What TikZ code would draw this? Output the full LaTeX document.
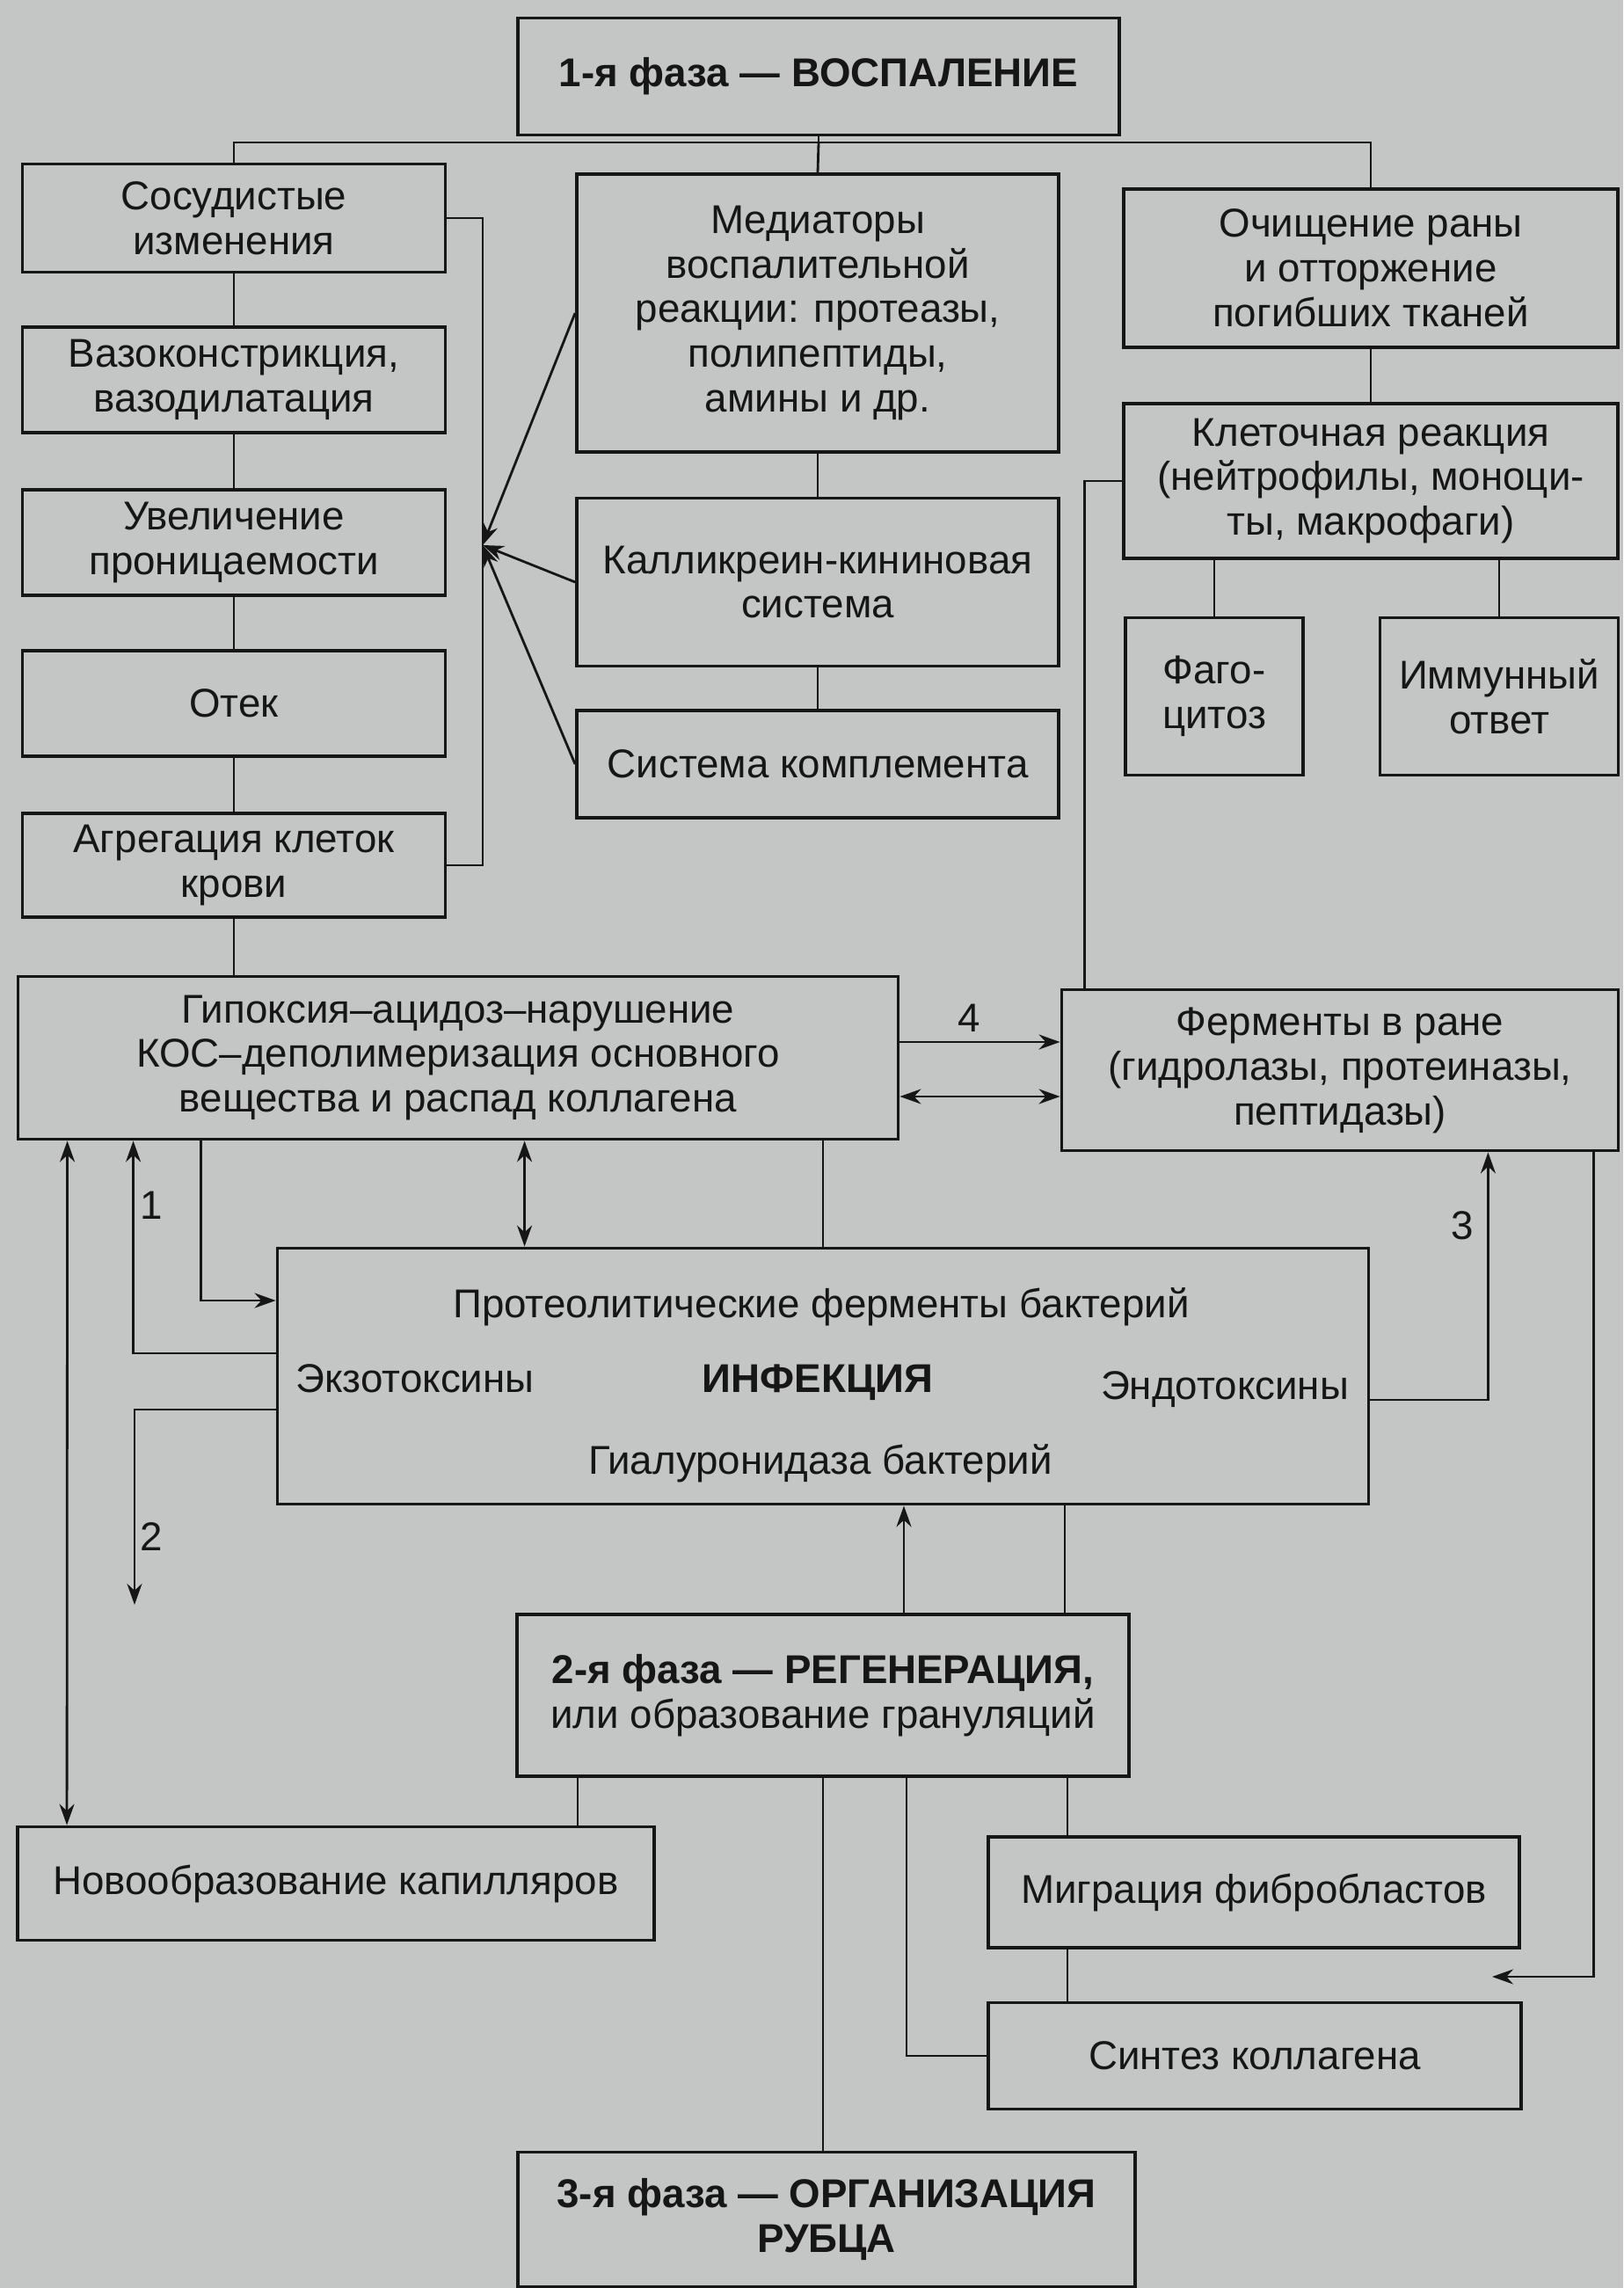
\documentclass[tikz,border=0pt]{standalone}
\usepackage{fontspec}
\setmainfont{Liberation Sans}
\usetikzlibrary{arrows.meta}
\definecolor{page-grey}{HTML}{C4C6C5}
\definecolor{ink}{HTML}{161616}

\begin{document}
\begin{tikzpicture}[
    every node/.style={font=\fontsize{13}{14.5}\selectfont, text=ink},
    box/.style={draw=ink, line width=1.1pt, fill=page-grey, align=center, inner sep=2pt},
    link/.style={draw=ink, line width=0.8pt},
    arr/.style={link, -{Stealth[length=2.4mm, width=1.7mm]}},
    arr2/.style={link, {Stealth[length=2.4mm, width=1.7mm]}-{Stealth[length=2.4mm, width=1.7mm]}}
  ]
    % Page: 18.46cm x 26.02cm, y grows downwards (negative)
    %   left column x=2.66, middle x=9.30, right x=15.59
    %   bus under phase 1 at y=-1.62, bracket of arrows at x=5.49
    \fill[page-grey] (0,0) rectangle (18.46,-26.02);
    \useasboundingbox (0,0) rectangle (18.46,-26.02);

    % phase 1 and its three columns
    \node[box, minimum width=6.84cm, minimum height=1.33cm] (faza1) at (9.31,-0.87)
          {\bfseries 1-я фаза — ВОСПАЛЕНИЕ};
    \node[box, minimum width=4.81cm, minimum height=1.23cm] (sosud) at (2.66,-2.48)
          {Сосудистые\\изменения};
    \node[box, minimum width=4.81cm, minimum height=1.2cm] (vazo) at (2.66,-4.32)
          {Вазоконстрикция,\\вазодилатация};
    \node[box, minimum width=4.81cm, minimum height=1.2cm] (pronic) at (2.66,-6.17)
          {Увеличение\\проницаемости};
    \node[box, minimum width=4.81cm, minimum height=1.2cm] (otek) at (2.66,-8.0) {Отек};
    \node[box, minimum width=4.81cm, minimum height=1.18cm] (agreg) at (2.66,-9.84)
          {Агрегация клеток\\крови};
    \node[box, minimum width=5.48cm, minimum height=3.16cm] (mediat) at (9.30,-3.56)
          {Медиаторы\\воспалительной\\реакции: протеазы,\\полипептиды,\\амины и др.};
    \node[box, minimum width=5.48cm, minimum height=1.91cm] (kallik) at (9.30,-6.62)
          {Калликреин-кининовая\\система};
    \node[box, minimum width=5.48cm, minimum height=1.22cm] (kompl) at (9.30,-8.69)
          {Система комплемента};
    \node[box, minimum width=5.62cm, minimum height=1.8cm] (ochish) at (15.59,-3.05)
          {Очищение раны\\и отторжение\\погибших тканей};
    \node[box, minimum width=5.62cm, minimum height=1.76cm] (kletoch) at (15.59,-5.47)
          {Клеточная реакция\\(нейтрофилы, моноци-\\ты, макрофаги)};
    \node[box, minimum width=2.02cm, minimum height=1.79cm] (fago) at (13.81,-7.92)
          {Фаго-\\цитоз};
    \node[box, minimum width=2.71cm, minimum height=1.79cm] (immun) at (17.05,-7.92)
          {Иммунный\\ответ};

    % middle band
    \node[box, minimum width=10.01cm, minimum height=1.85cm] (gipox) at (5.21,-12.03)
          {Гипоксия–ацидоз–нарушение\\КОС–деполимеризация основного\\вещества и распад коллагена};
    \node[box, minimum width=6.33cm, minimum height=1.83cm] (ferment) at (15.24,-12.17)
          {Ферменты в ране\\(гидролазы, протеиназы,\\пептидазы)};
    \node[box, minimum width=12.41cm, minimum height=2.91cm] (infek) at (9.36,-15.65) {};
    \node (infP) at (9.34,-14.86) {Протеолитические ферменты бактерий};
    \node (infE) at (4.72,-15.68) {Экзотоксины};
    \node (infN) at (9.30,-15.72) {\bfseries ИНФЕКЦИЯ};
    \node (infD) at (13.93,-15.80) {Эндотоксины};
    \node (infH) at (9.33,-16.64) {Гиалуронидаза бактерий};

    % phases 2 and 3
    \node[box, minimum width=6.96cm, minimum height=1.84cm] (faza2) at (9.36,-19.28)
          {\bfseries 2-я фаза — РЕГЕНЕРАЦИЯ,\\или образование грануляций};
    \node[box, minimum width=7.24cm, minimum height=1.29cm] (novoobr) at (3.82,-21.42)
          {Новообразование капилляров};
    \node[box, minimum width=6.04cm, minimum height=1.26cm] (migr) at (14.26,-21.52)
          {Миграция фибробластов};
    \node[box, minimum width=6.06cm, minimum height=1.21cm] (sintez) at (14.27,-23.38)
          {Синтез коллагена};
    \node[box, minimum width=7.02cm, minimum height=1.53cm] (faza3) at (9.40,-25.24)
          {\bfseries 3-я фаза — ОРГАНИЗАЦИЯ\\\bfseries РУБЦА};

    % tree under phase 1
    \coordinate (bus) at (9.31,-1.62);
    \draw[link] (faza1.south) -- (bus);
    \draw[link] (sosud.north) |- (bus) -| (ochish.north);
    \draw[link] (bus) -- (mediat.north);
    \draw[link] (sosud) -- (vazo);
    \draw[link] (vazo) -- (pronic);
    \draw[link] (pronic) -- (otek);
    \draw[link] (otek) -- (agreg);
    \draw[link] (agreg.south) -- (agreg.south |- gipox.north);
    \draw[link] (mediat) -- (kallik);
    \draw[link] (kallik) -- (kompl);
    \draw[link] (ochish) -- (kletoch);
    \draw[link] (kletoch.south -| fago.north) -- (fago.north);
    \draw[link] (kletoch.south -| immun.north) -- (immun.north);
    \draw[link] (kletoch.west) -| ([xshift=0.28cm]ferment.north west);

    % bracket of the vascular column and the mediator arrows
    \coordinate (brk) at (5.49,-6.2);
    \draw[link] (sosud.east) -| (brk) |- (agreg.east);
    \draw[arr] (mediat.west) -- (brk);
    \draw[arr] (kallik.west) -- (brk);
    \draw[arr] (kompl.west) -- (brk);

    % hypoxia <-> wound enzymes
    \draw[arr] ([yshift=0.18cm]gipox.east) -- ([yshift=0.18cm]gipox.east -| ferment.west);
    \draw[arr2] ([yshift=-0.44cm]gipox.east) -- ([yshift=-0.44cm]gipox.east -| ferment.west);
    \node (lab4) at (11.02,-11.58) {4};

    % hypoxia <-> infection
    \draw[arr2] ([xshift=0.58cm]gipox.south west) -- ([xshift=0.58cm]novoobr.north west);
    \draw[arr] ([yshift=0.26cm]infek.west) -| ([xshift=1.33cm]gipox.south west);
    \node (lab1) at (1.72,-13.71) {1};
    \draw[arr] ([xshift=2.1cm]gipox.south west) |- ([yshift=0.86cm]infek.west);
    \coordinate (out2) at (1.53,-18.25);
    \draw[arr] ([yshift=-0.38cm]infek.west) -| (out2);
    \node (lab2) at (1.72,-17.48) {2};
    \draw[arr2] ([xshift=5.78cm]gipox.south west) -- ([xshift=5.78cm]gipox.south west |- infek.north);
    \draw[link] (gipox.south -| infek.north) -- (infek.north);

    % infection -> wound enzymes, enzymes -> fibroblasts
    \draw[arr] ([yshift=-0.27cm]infek.east) -| ([xshift=-1.5cm]ferment.south east);
    \node (lab3) at (16.63,-13.94) {3};
    \coordinate (gapR) at (16.97,-22.48);
    \draw[arr] ([xshift=-0.3cm]ferment.south east) |- (gapR);

    % phase 2 links
    \draw[arr] ([xshift=0.92cm]faza2.north) -- ([xshift=0.92cm]faza2.north |- infek.south);
    \draw[link] ([xshift=2.75cm]faza2.north) -- ([xshift=2.75cm]faza2.north |- infek.south);
    \draw[link] ([xshift=-2.79cm]faza2.south) -- ([xshift=-2.79cm]faza2.south |- novoobr.north);
    \draw[link] (faza2.south) -- (faza2.south |- faza3.north);
    \draw[link] ([xshift=0.95cm]faza2.south) |- (sintez.west);
    \draw[link] ([xshift=2.78cm]faza2.south) -- ([xshift=2.78cm]faza2.south |- migr.north);
    \draw[link] ([xshift=2.78cm]faza2.south |- migr.south) -- ([xshift=2.78cm]faza2.south |- sintez.north);
  \end{tikzpicture}
\end{document}
